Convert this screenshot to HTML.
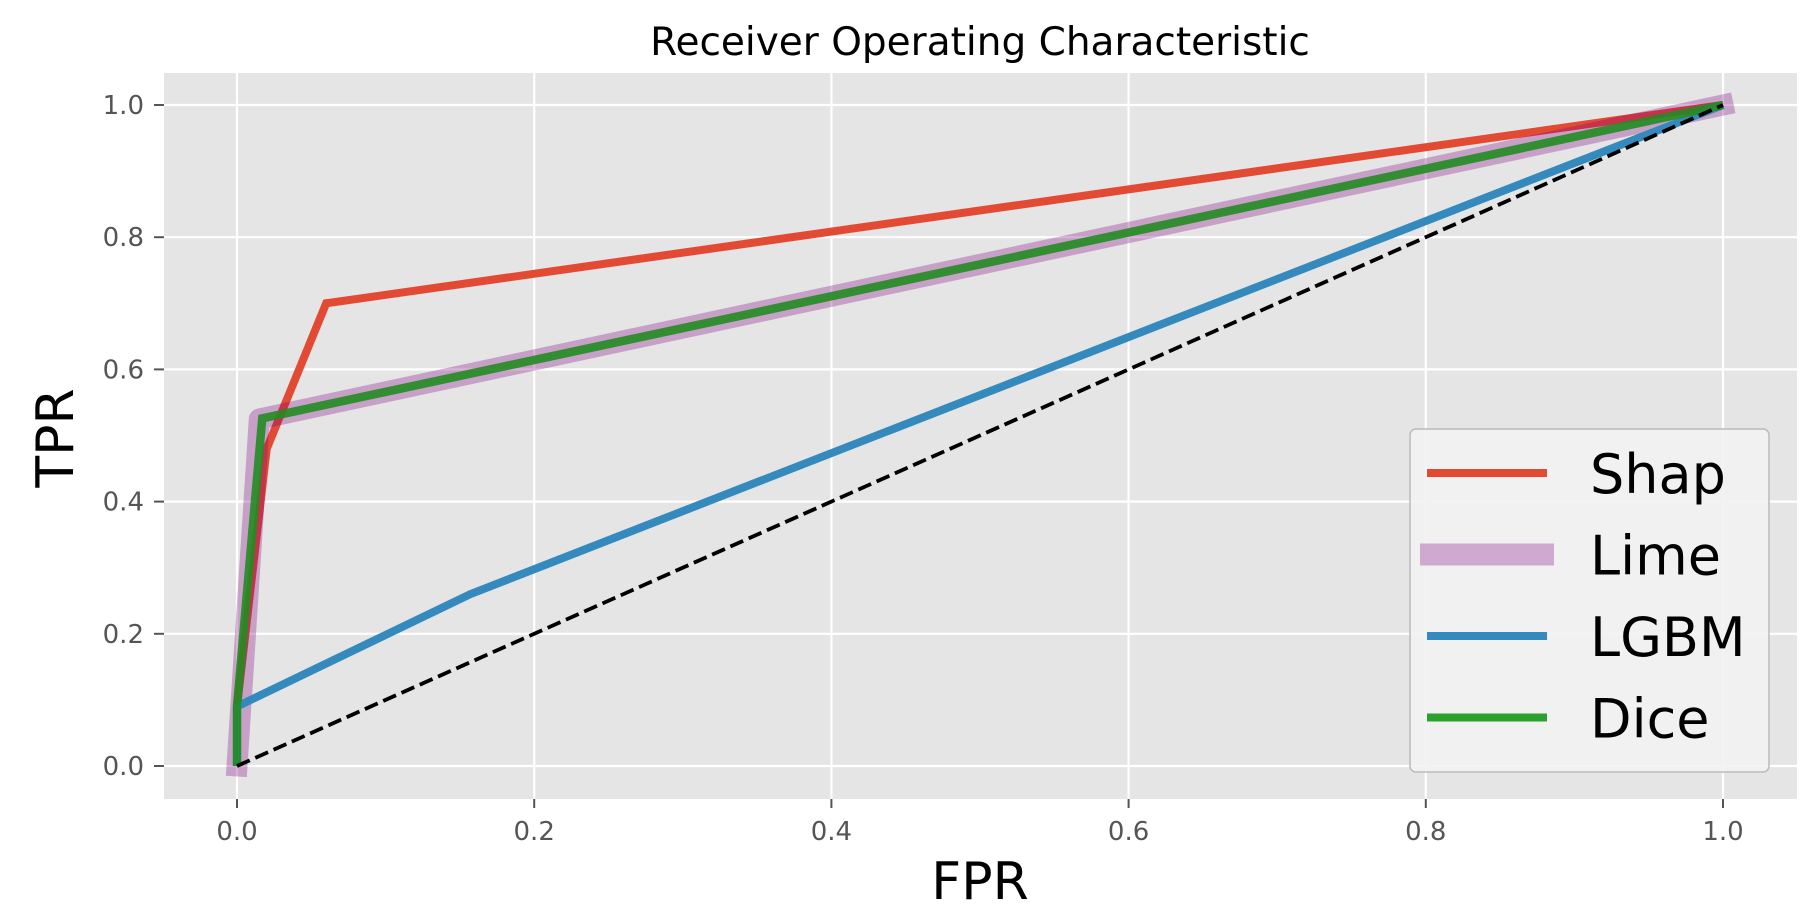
<!DOCTYPE html>
<html><head><meta charset="utf-8"><style>
html,body{margin:0;padding:0;background:#fff;}
svg{display:block;font-family:"DejaVu Sans","Liberation Sans",sans-serif;}
</style></head><body>
<svg id="chart" width="1813" height="907" xmlns="http://www.w3.org/2000/svg">
<rect x="164" y="73" width="1633" height="726" fill="#e5e5e5"/>
<g id="grid"></g>
<g id="ticks"></g>
<g id="series"></g>
<text x="980" y="55" font-size="39" text-anchor="middle" fill="#000">Receiver Operating Characteristic</text>
<text x="980" y="899" font-size="52" text-anchor="middle" fill="#000">FPR</text>
<text transform="translate(73,438) rotate(-90)" font-size="52" text-anchor="middle" fill="#000">TPR</text>
<g>
<rect x="1410" y="429" width="359" height="343" rx="6" fill="#f2f2f2" fill-opacity="0.9" stroke="#bbb" stroke-width="1.5"/>
<g id="legend-items"></g>
</g>
</svg>
<script>
const xTicks = [0, 0.2, 0.4, 0.6, 0.8, 1.0];
const yTicks = [0, 0.2, 0.4, 0.6, 0.8, 1.0];
const tickLabels = ["0.0", "0.2", "0.4", "0.6", "0.8", "1.0"];
const seriesNames = ["Shap", "Lime", "LGBM", "Dice"];
const shapFpr = [0, 0, 0.02, 0.06, 1];
const shapTpr = [0, 0.09, 0.48, 0.70, 1];
const limeFpr = [0, 0.015, 1];
const limeTpr = [0, 0.525, 1];
const lgbmFpr = [0, 0, 0.157, 1];
const lgbmTpr = [0, 0.09, 0.26, 1];
const diceFpr = [0, 0, 0.017, 1];
const diceTpr = [0, 0.09, 0.526, 1];
const chanceFpr = [0, 1];
const chanceTpr = [0, 1];

const NS = "http://www.w3.org/2000/svg";
const X0 = 237, X1 = 1723, Y0 = 766, Y1 = 105;
function sx(v){ return X0 + v * (X1 - X0); }
function sy(v){ return Y0 + v * (Y1 - Y0); }
function mk(tag, attrs, parent){
  const e = document.createElementNS(NS, tag);
  for (const k in attrs) e.setAttribute(k, attrs[k]);
  parent.appendChild(e);
  return e;
}
const grid = document.getElementById("grid");
const ticks = document.getElementById("ticks");
xTicks.forEach((v, i) => {
  const g = mk("line", {x1: sx(v), x2: sx(v), y1: 73, y2: 799, stroke: "#fff", "stroke-width": 2.2}, grid);
  
  
  const t = mk("line", {x1: sx(v), x2: sx(v), y1: 799, y2: 808, stroke: "#555", "stroke-width": 2}, ticks);
  
  
  const l = mk("text", {x: sx(v), y: 840, "font-size": 26, "text-anchor": "middle", fill: "#555"}, ticks);
  l.textContent = tickLabels[i];
  
  
});
yTicks.forEach((v, i) => {
  const g = mk("line", {x1: 164, x2: 1797, y1: sy(v), y2: sy(v), stroke: "#fff", "stroke-width": 2.2}, grid);
  
  
  const t = mk("line", {x1: 154, x2: 164, y1: sy(v), y2: sy(v), stroke: "#555", "stroke-width": 2}, ticks);
  
  
  const l = mk("text", {x: 144, y: sy(v) + 9, "font-size": 26, "text-anchor": "end", fill: "#555"}, ticks);
  l.textContent = tickLabels[i];
  
  
});
function pts(xs, ys){ return xs.map((x, i) => sx(x) + "," + sy(ys[i])).join(" "); }
const series = document.getElementById("series");
const styles = [
  {xs: shapFpr, ys: shapTpr, stroke: "#E24A33", w: 8, op: 1, join: "miter", cap: "butt"},
  {xs: limeFpr, ys: limeTpr, stroke: "#800080", w: 21, op: 0.3, join: "round", cap: "square"},
  {xs: lgbmFpr, ys: lgbmTpr, stroke: "#348ABD", w: 8, op: 1, join: "miter", cap: "butt"},
  {xs: diceFpr, ys: diceTpr, stroke: "#228B22", w: 8.5, op: 0.9, join: "miter", cap: "butt"}
];
styles.forEach((s, i) => {
  const p = mk("polyline", {points: pts(s.xs, s.ys), fill: "none", stroke: s.stroke, "stroke-width": s.w, "stroke-opacity": s.op, "stroke-linejoin": s.join, "stroke-linecap": s.cap}, series);
  
  
});
const ch = mk("polyline", {points: pts(chanceFpr, chanceTpr), fill: "none", stroke: "#000", "stroke-width": 3.8, "stroke-dasharray": "14,6"}, series);



const leg = document.getElementById("legend-items");
const legW = [8, 22, 8, 8];
const legC = ["#E24A33", "#d0a9d0", "#348ABD", "#2ca02c"];
seriesNames.forEach((n, i) => {
  const y = 473 + i * 81.5;
  const ln = mk("line", {x1: i === 1 ? 1420 : 1427, x2: i === 1 ? 1554 : 1547, y1: y, y2: y, stroke: legC[i], "stroke-width": legW[i]}, leg);
  
  
  const t = mk("text", {x: 1590, y: y + 20, "font-size": 54, fill: "#000"}, leg);
  t.textContent = n;
  
  
});
</script>
</body></html>
